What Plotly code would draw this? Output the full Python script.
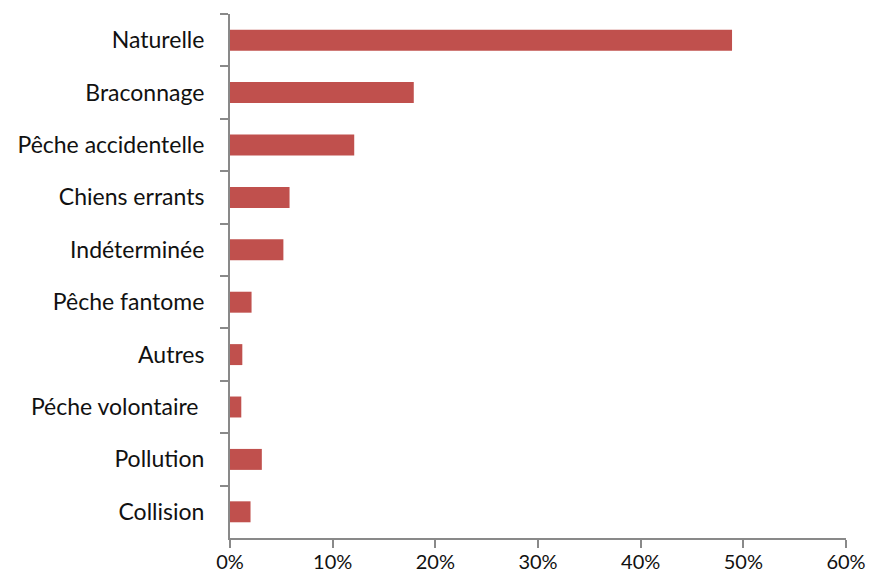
import plotly.graph_objects as go

categories = ["Naturelle", "Braconnage", "Pêche accidentelle", "Chiens errants",
              "Indéterminée", "Pêche fantome", "Autres", "Péche volontaire ",
              "Pollution", "Collision"]
values = [0.489, 0.179, 0.121, 0.058, 0.052, 0.021, 0.012, 0.011, 0.031, 0.020]
x_ticks = [0, 0.1, 0.2, 0.3, 0.4, 0.5, 0.6]
x_tick_labels = ["0%", "10%", "20%", "30%", "40%", "50%", "60%"]

fig = go.Figure(go.Bar(
    x=values, y=categories, orientation="h",
    marker=dict(color="#C0504D", line=dict(width=0)),
))

axis_color = "#898989"
yfont = dict(family="Lato", size=23, color="#111111")
xfont = dict(family="Lato", size=20, color="#111111")

fig.update_layout(
    template="none",
    width=870, height=577,
    margin=dict(l=230, r=24, t=14, b=39, autoexpand=False),
    paper_bgcolor="white", plot_bgcolor="white",
    bargap=0.6, showlegend=False, font=yfont,
)
fig.update_xaxes(
    range=[0, 0.6], tickvals=x_ticks, ticktext=x_tick_labels, automargin=False,
    showgrid=False, zeroline=False, showline=True, linecolor=axis_color, linewidth=2,
    ticks="outside", ticklen=8, tickwidth=2, tickcolor=axis_color,
    tickfont=xfont, ticklabelstandoff=-3,
)
fig.update_yaxes(
    categoryorder="array", categoryarray=categories, autorange="reversed", automargin=False,
    showgrid=False, zeroline=False, showline=True, linecolor=axis_color, linewidth=2,
    ticks="outside", ticklen=8, tickwidth=2, tickcolor=axis_color, tickson="boundaries",
    tickfont=yfont, ticklabelstandoff=19,
)

fig.write_html(
    "out.html",
    config={"displayModeBar": False},
    post_script="document.body.style.margin='0';document.body.style.overflow='hidden';",
)
